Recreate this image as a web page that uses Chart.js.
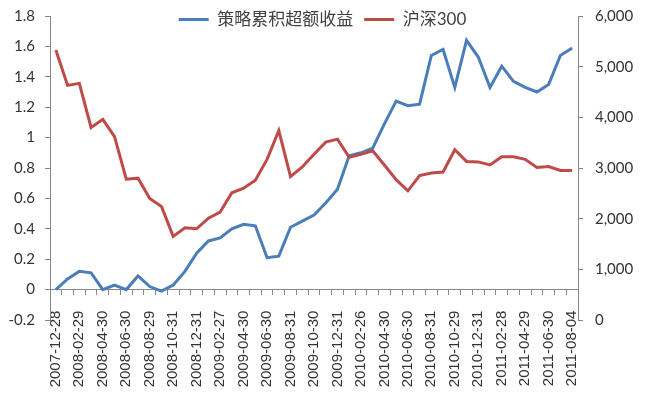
<!DOCTYPE html>
<html><head><meta charset="utf-8">
<script src="https://cdn.jsdelivr.net/npm/chart.js@4.4.0/dist/chart.umd.min.js"></script>
<style>html,body{margin:0;padding:0;background:#fff}#wrap{width:645px;height:408px}</style>
</head><body><div id="wrap"><canvas id="c" width="645" height="408"></canvas></div>
<script>
const dates = [
 '2007-12-28','2008-01-31','2008-02-29','2008-03-31','2008-04-30','2008-05-30','2008-06-30','2008-07-31',
 '2008-08-29','2008-09-26','2008-10-31','2008-11-28','2008-12-31','2009-01-23','2009-02-27','2009-03-31',
 '2009-04-30','2009-05-27','2009-06-30','2009-07-31','2009-08-31','2009-09-30','2009-10-30','2009-11-30',
 '2009-12-31','2010-01-29','2010-02-26','2010-03-31','2010-04-30','2010-05-31','2010-06-30','2010-07-30',
 '2010-08-31','2010-09-30','2010-10-29','2010-11-30','2010-12-31','2011-01-31','2011-02-28','2011-03-31',
 '2011-04-29','2011-05-31','2011-06-30','2011-07-29','2011-08-04'
];
const excessReturn = [
 0.00,0.07,0.12,0.11,0.00,0.03,0.00,0.09,0.02,-0.01,0.03,0.12,0.24,0.32,0.34,0.40,
 0.43,0.42,0.21,0.22,0.41,0.45,0.49,0.57,0.66,0.88,0.90,0.93,1.09,1.24,1.21,1.22,
 1.54,1.58,1.33,1.64,1.53,1.33,1.47,1.37,1.33,1.30,1.35,1.54,1.59
];
const hs300 = [
 5330,4630,4670,3800,3960,3620,2780,2800,2400,2240,1650,1820,1800,2010,2130,2510,
 2600,2760,3170,3740,2830,3020,3270,3510,3570,3210,3270,3340,3060,2770,2550,2850,
 2900,2920,3360,3130,3120,3060,3220,3220,3170,3010,3030,2950,2950
];
const seriesNames = ['策略累积超额收益','沪深300'];
const leftAxisRange = [-0.2, 1.8, 0.2];
const rightAxisRange = [0, 6000, 1000];

const AXIS = '#868686';
const TXT = '#333333';
const FONT = 'Lato, "Noto Sans CJK SC", sans-serif';

// legend overlays the top of the plot (as in the original): it reserves little space,
// then gets its full box back for drawing
const legendOverlay = {
  id: 'legendOverlay',
  beforeLayout(chart) {
    const lg = chart.legend;
    if (lg && !lg._patched) {
      const f = lg.fit;
      lg.fit = function () { f.call(this); this._fullH = this.height; this.height = 16; };
      lg._patched = true;
    }
  },
  afterLayout(chart) {
    const lg = chart.legend;
    if (lg && lg._fullH) { lg.height = lg._fullH; lg.bottom = lg.top + lg._fullH; }
  }
};

function noVPad(s) { s.paddingTop = 0; }

new Chart(document.getElementById('c'), {
  type: 'line',
  data: {
    labels: dates,
    datasets: [
      { label: seriesNames[0], data: excessReturn, yAxisID: 'y', borderColor: '#4A7EBB', backgroundColor: '#4A7EBB',
        borderWidth: 3, pointRadius: 0, tension: 0, order: 1 },
      { label: seriesNames[1], data: hs300, yAxisID: 'y1', borderColor: '#BE4B48', backgroundColor: '#BE4B48',
        borderWidth: 3, pointRadius: 0, tension: 0, order: 0 }
    ]
  },
  options: {
    responsive: false,
    animation: false,
    devicePixelRatio: 1,
    layout: { padding: { top: 0, bottom: 88, left: 0, right: 0 } },
    plugins: {
      tooltip: { enabled: false },
      legend: {
        position: 'top',
        labels: {
          boxWidth: 30, boxHeight: 3, padding: 11,
          color: '#404040',
          font: { family: FONT, size: 17 },
          sort: (a, b) => a.datasetIndex - b.datasetIndex,
          generateLabels(chart) {
            const items = Chart.defaults.plugins.legend.labels.generateLabels(chart);
            items.forEach(it => { it.lineWidth = 0; it.fillStyle = it.strokeStyle; });
            return items;
          }
        }
      }
    },
    scales: {
      x: {
        type: 'category',
        axis: 'x',
        position: { y: 0 },
        offset: true,
        grid: { offset: true, drawOnChartArea: false, drawTicks: true, tickLength: 5, color: AXIS, lineWidth: 1 },
        border: { display: true, color: AXIS, width: 1 },
        ticks: {
          autoSkip: false, minRotation: 90, maxRotation: 90, padding: 16,
          color: TXT, font: { family: '"Liberation Sans", Arial, sans-serif', size: 15 },
          callback: function (v, i) { return i % 2 === 0 ? this.getLabelForValue(v) : ''; }
        },
        afterFit: noVPad
      },
      y: {
        position: 'left',
        min: leftAxisRange[0], max: leftAxisRange[1],
        grid: { drawOnChartArea: false, drawTicks: true, tickLength: 5, color: AXIS },
        border: { display: true, color: AXIS, width: 1 },
        ticks: {
          stepSize: leftAxisRange[2], padding: 10, color: TXT, font: { family: FONT, size: 15 },
          callback: v => String(Number(v.toFixed(1)))
        },
        afterFit: s => { s.width = 50; noVPad(s); }
      },
      y1: {
        position: 'right',
        min: rightAxisRange[0], max: rightAxisRange[1],
        grid: { drawOnChartArea: false, drawTicks: true, tickLength: 5, color: AXIS },
        border: { display: true, color: AXIS, width: 1 },
        ticks: {
          stepSize: rightAxisRange[2], padding: 12, color: TXT, font: { family: FONT, size: 15 },
          callback: v => Number(v).toLocaleString('en-US')
        },
        afterFit: s => { s.width = 67; noVPad(s); }
      }
    }
  },
  plugins: [legendOverlay]
});
</script>
</body></html>
